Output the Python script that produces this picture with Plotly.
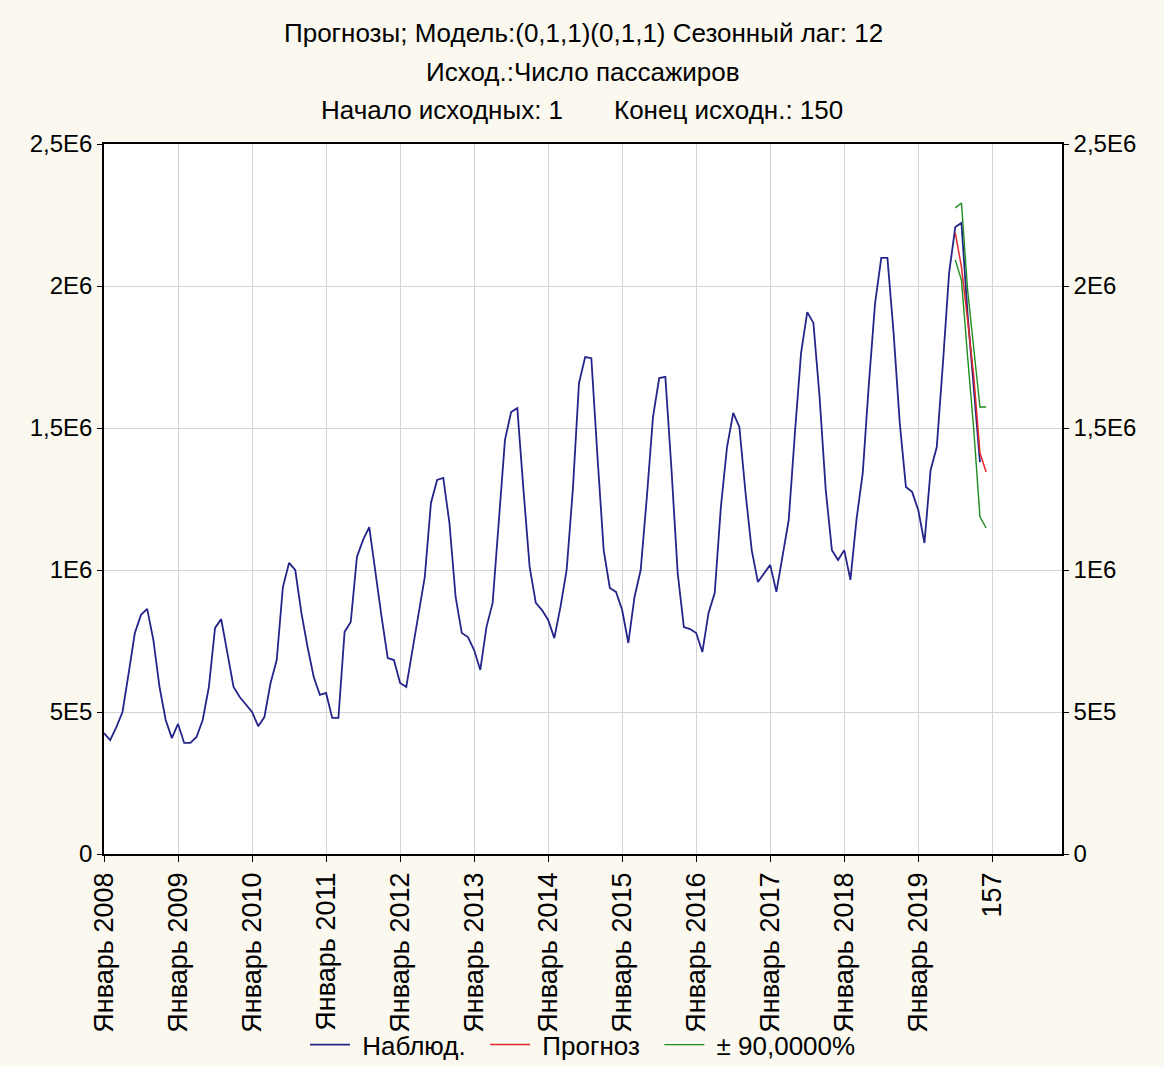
import plotly.graph_objects as go

# ---- data (thousands of passengers) ----
obs_values = [426, 401, 447, 500, 637, 778, 842, 863, 754, 588, 472, 408,
              458, 391, 391, 412, 472, 588, 796, 827, 708, 588, 553, 525,
              500, 450, 482, 602, 683, 940, 1025, 1000, 849, 729, 623, 560,
              567, 479, 479, 782, 817, 1046, 1106, 1151, 989, 835, 690, 683,
              602, 588, 718, 849, 975, 1236, 1317, 1324, 1165, 905, 778, 764,
              718, 648, 799, 884, 1165, 1458, 1556, 1570, 1282, 1011, 884, 859,
              824, 760, 870, 1000, 1282, 1658, 1750, 1746, 1398, 1070, 937, 923,
              859, 743, 905, 1000, 1257, 1539, 1676, 1680, 1352, 989, 799, 792,
              778, 711, 849, 919, 1222, 1433, 1553, 1504, 1271, 1070, 958, 989,
              1018, 923, 1046, 1176, 1482, 1764, 1908, 1870, 1609, 1282, 1070, 1035,
              1070, 965, 1180, 1342, 1658, 1940, 2099, 2099, 1835, 1518, 1292, 1275,
              1211, 1095, 1352, 1433, 1729, 2046, 2208, 2222, 1900, 1650, 1380]
obs_cases = list(range(1, len(obs_values) + 1))

fc_cases = [139, 140, 141, 142, 143, 144]
forecast = [2187, 2067, 1880, 1680, 1412, 1345]
upper90 = [2275, 2292, 1986, 1775, 1574, 1574]
lower90 = [2092, 2021, 1750, 1493, 1187, 1148]

x_tickvals = [1, 13, 25, 37, 49, 61, 73, 85, 97, 109, 121, 133, 145]
x_ticktext = ["Январь 2008", "Январь 2009", "Январь 2010", "Январь 2011",
              "Январь 2012", "Январь 2013", "Январь 2014", "Январь 2015",
              "Январь 2016", "Январь 2017", "Январь 2018", "Январь 2019", "157"]
y_tickvals = [0, 500000, 1000000, 1500000, 2000000, 2500000]
y_ticktext = ["0", "5E5", "1E6", "1,5E6", "2E6", "2,5E6"]

scale = 1000
FONT = "Liberation Sans, Arial, sans-serif"
BLUE = "#24248A"
RED = "#E02828"
GREEN = "#1E8C1E"
NB = "\u00a0"

fig = go.Figure()
fig.add_trace(go.Scatter(x=obs_cases, y=[v * scale for v in obs_values], mode="lines",
                         name=NB + "Наблюд." + NB * 2, line=dict(color=BLUE, width=1.8)))
fig.add_trace(go.Scatter(x=fc_cases, y=[v * scale for v in forecast], mode="lines",
                         name=NB + "Прогноз" + NB * 2, line=dict(color=RED, width=1.5)))
fig.add_trace(go.Scatter(x=fc_cases, y=[v * scale for v in upper90], mode="lines",
                         name=NB + "± 90,0000%", legendgroup="ci", line=dict(color=GREEN, width=1.4)))
fig.add_trace(go.Scatter(x=fc_cases, y=[v * scale for v in lower90], mode="lines",
                         name="± 90,0000%", legendgroup="ci", showlegend=False,
                         line=dict(color=GREEN, width=1.4)))
fig.add_trace(go.Scatter(x=[None], y=[None], yaxis="y2", showlegend=False, hoverinfo="skip"))

yaxis_common = dict(range=[0, 2500000], tickvals=y_tickvals, ticktext=y_ticktext,
                    tickfont=dict(family=FONT, size=24, color="#000"),
                    ticks="outside", ticklen=5, tickcolor="#000",
                    linecolor="#000", linewidth=1.5, showline=True,
                    zeroline=False, automargin=False, fixedrange=True)

fig.update_layout(
    template="none",
    width=1164, height=1066,
    paper_bgcolor="#FBF9EF",
    plot_bgcolor="#FFFFFF",
    margin=dict(l=104, r=102, t=144, b=212),
    showlegend=True,
    legend=dict(orientation="h", x=0.5, xanchor="center", xref="paper",
                y=0.02, yanchor="middle", yref="container",
                font=dict(family=FONT, size=26, color="#000"), bgcolor="rgba(0,0,0,0)",
                itemwidth=40, tracegroupgap=0),
    xaxis=dict(range=[1, 156.3], tickvals=x_tickvals, ticktext=x_ticktext,
               tickangle=-90, tickfont=dict(family=FONT, size=27, color="#000"),
               ticks="outside", ticklen=6, tickcolor="#000",
               showgrid=True, gridcolor="#D4D4D4", gridwidth=1,
               showline=True, linecolor="#000", linewidth=1.5, mirror=True,
               zeroline=False, automargin=False),
    yaxis=dict(**yaxis_common, side="left", showgrid=True, gridcolor="#D4D4D4", gridwidth=1,
               mirror=True),
    yaxis2=dict(**yaxis_common, side="right", overlaying="y", showgrid=False),
)

title_lines = [
    ("Прогнозы; Модель:(0,1,1)(0,1,1) Сезонный лаг: 12", 0.5, 1.156),
    ("Исход.:Число пассажиров", 0.5, 1.101),
    ("Начало исходных: 1", 0.353, 1.048),
    ("Конец исходн.: 150", 0.652, 1.048),
]
for txt, xp, yp in title_lines:
    fig.add_annotation(text=txt, x=xp, y=yp, xref="paper", yref="paper",
                       xanchor="center", yanchor="middle", showarrow=False,
                       font=dict(family=FONT, size=26, color="#000"))

fig.write_html("out.html", config={"displayModeBar": False},
               post_script="document.body.style.margin='0';"
                           "document.body.style.background='#FBF9EF';")
